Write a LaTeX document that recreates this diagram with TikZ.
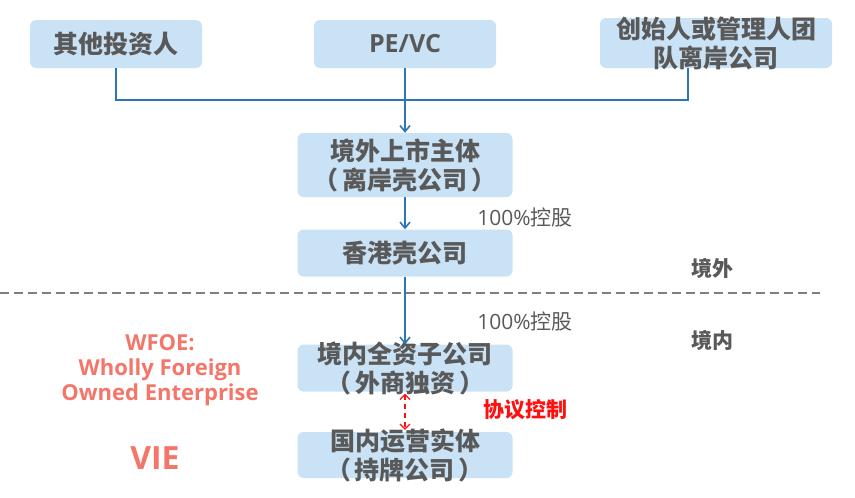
\documentclass[tikz,border=0pt]{standalone}
\usepackage{fontspec}
\setmainfont{Noto Sans CJK SC}
\newfontfamily\latinfont{Open Sans}
\usetikzlibrary{arrows.meta}

\definecolor{boxblue}{HTML}{C9E2F5}
\definecolor{boxgray}{HTML}{595959}
\definecolor{linkblue}{HTML}{2E75B6}
\definecolor{wfoered}{HTML}{F4766A}
\definecolor{agreered}{HTML}{FF1010}
\definecolor{bordergray}{HTML}{7F7F7F}

\newcommand{\bracketed}[1]{（\hspace{4pt}#1\hspace{4pt}）}

\tikzset{
  box/.style={rectangle, fill=boxblue, rounded corners=6pt, inner sep=0pt},
  boxtext/.style={text=boxgray, align=center,
    font=\fontsize{25}{29}\selectfont\bfseries},
  link/.style={draw=linkblue, line width=1.6pt},
  agree/.style={draw=agreered, line width=1.2pt, dash pattern=on 5pt off 4pt},
  note/.style={text=boxgray, font=\fontsize{21}{25}\selectfont}
}

\begin{document}
\begin{tikzpicture}[x=1pt,y=-1pt,>={Straight Barb[length=6pt,width=10pt]}]

    \useasboundingbox (0,0) rectangle (855,498);

    % top row
    \node[box,
          minimum width = 172pt,
          minimum height = 48pt
          ] (others) at (116,44) {};
    \node[boxtext] at (others.center) {其他投资人};

    \node[box,
          minimum width = 182pt,
          minimum height = 48pt
          ] (pevc) at (405,44) {};
    \node[boxtext] at (pevc.center) {\latinfont\bfseries\fontsize{25}{29}\selectfont PE/VC};

    \node[box,
          minimum width = 232pt,
          minimum height = 50pt
          ] (founder) at (716,43) {};
    \node[boxtext] at (founder.center) {创始人或管理人团\\队离岸公司};

    % offshore chain
    \node[box,
          minimum width = 215pt,
          minimum height = 64pt
          ] (listco) at (405,165) {};
    \node[boxtext] at (listco.center) {境外上市主体\\\bracketed{离岸壳公司}};

    \node[box,
          minimum width = 215pt,
          minimum height = 47pt
          ] (hkco) at (405,253) {};
    \node[boxtext] at (hkco.center) {香港壳公司};

    % onshore
    \node[box,
          minimum width = 215pt,
          minimum height = 47pt
          ] (wfoe) at (405,368) {};
    \node[boxtext] at (wfoe.center) {境内全资子公司\\\bracketed{外商独资}};

    \node[box,
          minimum width = 215pt,
          minimum height = 46pt
          ] (vie) at (405,455) {};
    \node[boxtext] at (vie.center) {国内运营实体\\\bracketed{持牌公司}};

    % labels
    \node[note] (ctrla) at (525,218) {{\latinfont 100\%}控股};
    \node[note] (ctrlb) at (525,322) {{\latinfont 100\%}控股};
    \node[note, font=\fontsize{21}{25}\selectfont\bfseries] (offshore) at (712,268) {境外};
    \node[note, font=\fontsize{21}{25}\selectfont\bfseries] (onshore) at (712,340) {境内};
    \node[text=agreered, font=\fontsize{21}{25}\selectfont\bfseries] (agreelab) at (525,410) {协议控制};

    \node[text=wfoered, align=center,
          font=\latinfont\bfseries\fontsize{22}{25}\selectfont
          ] (wfoedef) at (160,370) {WFOE:\\Wholly Foreign\\Owned Enterprise};
    \node[text=wfoered,
          font=\latinfont\bfseries\fontsize{32}{36}\selectfont
          ] (vielab) at (155,458) {VIE};

    % border line
    \coordinate (borderL) at (0,293);
    \coordinate (borderR) at (820,293);
    \draw[bordergray, line width=1.1pt, dash pattern=on 9pt off 5pt] (borderL) -- (borderR);

    % connectors
    \coordinate (hub) at (405,100);
    \coordinate (fdrleg) at (688,68);
    \draw[link] (others.south) |- (hub) -| (fdrleg);

    \path[link, ->]
    (pevc) edge [] (listco)
    (listco) edge [] (hkco)
    (hkco) edge [] (wfoe);

    \path[agree, {Straight Barb[length=5pt,width=10pt]}-{Straight Barb[length=5pt,width=10pt]}]
    (wfoe) edge [shorten <=2pt, shorten >=2pt] (vie);

\end{tikzpicture}
\end{document}
